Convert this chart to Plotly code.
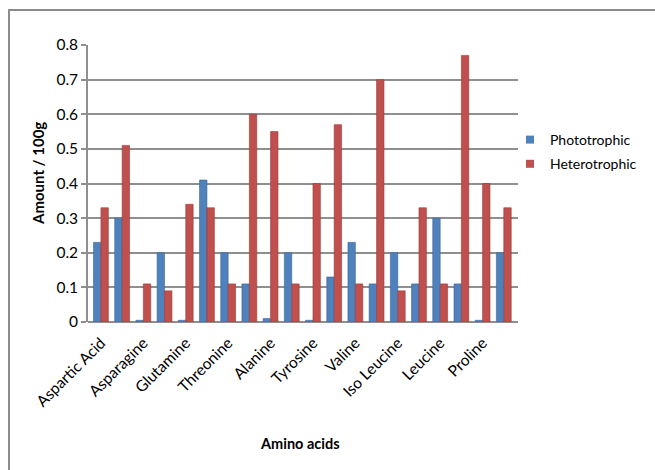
import plotly.graph_objects as go

# Amino acid content (amount per 100 g), 20 residues; every other one is labelled
positions = list(range(20))
phototrophic = [0.23, 0.30, 0.005, 0.20, 0.005, 0.41, 0.20, 0.11, 0.01, 0.20,
                0.005, 0.13, 0.23, 0.11, 0.20, 0.11, 0.30, 0.11, 0.005, 0.20]
heterotrophic = [0.33, 0.51, 0.11, 0.09, 0.34, 0.33, 0.11, 0.60, 0.55, 0.11,
                 0.40, 0.57, 0.11, 0.70, 0.09, 0.33, 0.11, 0.77, 0.40, 0.33]
label_positions = [0, 2, 4, 6, 8, 10, 12, 14, 16, 18]
tick_labels = ["Aspartic Acid", "Asparagine", "Glutamine", "Threonine", "Alanine",
               "Tyrosine", "Valine", "Iso Leucine", "Leucine", "Proline"]
y_ticks = [0, 0.1, 0.2, 0.3, 0.4, 0.5, 0.6, 0.7, 0.8]
y_tick_text = ["0", "0.1", "0.2", "0.3", "0.4", "0.5", "0.6", "0.7", "0.8"]

FONT = "Lato, Open Sans, sans-serif"
GRID = "#8f8f8f"
BLUE, RED = "#4F81BD", "#C0504D"

fig = go.Figure()
fig.add_trace(go.Bar(x=positions, y=phototrophic, name="Phototrophic",
                     marker=dict(color=BLUE, line=dict(color="#3A6796", width=0.6)),
                     showlegend=False))
fig.add_trace(go.Bar(x=positions, y=heterotrophic, name="Heterotrophic",
                     marker=dict(color=RED, line=dict(color="#973C3A", width=0.6)),
                     showlegend=False))
# small square legend keys
for name, color, grp in [("Phototrophic", BLUE, "a"), ("Heterotrophic", RED, "b")]:
    fig.add_trace(go.Scatter(x=[None], y=[None], mode="markers", name=name,
                             marker=dict(symbol="square", size=8, color=color),
                             legendgroup=grp, showlegend=True))

L, R, T, B = 88, 518, 45, 322
W, H = 655, 470
pw, ph = R - L, B - T

def px(x):
    return (x - L) / pw

def py(y):
    return (B - y) / ph

fig.update_layout(
    width=W, height=H,
    margin=dict(l=L, r=W - R, t=T, b=H - B, autoexpand=False),
    paper_bgcolor="white", plot_bgcolor="white",
    barmode="group", bargap=0.3, bargroupgap=0.0,
    font=dict(family=FONT, color="#000000", size=14),
    legend=dict(x=px(510), y=py(124), xanchor="left", yanchor="top",
                font=dict(size=14, family=FONT), tracegroupgap=3,
                itemwidth=30, bgcolor="rgba(0,0,0,0)"),
    xaxis=dict(range=[-0.61, 19.67], tickmode="array", tickvals=label_positions,
               ticktext=tick_labels, tickangle=-45, showgrid=False, zeroline=False,
               showline=False, ticks="", ticklabelstandoff=8,
               tickfont=dict(size=15.5, family=FONT)),
    yaxis=dict(range=[0, 0.8], tickmode="array", tickvals=y_ticks, ticktext=y_tick_text,
               showgrid=True, gridcolor=GRID, gridwidth=1.6, zeroline=True,
               zerolinecolor=GRID, zerolinewidth=1.6, showline=True, linecolor=GRID,
               linewidth=1.6, ticks="outside", ticklen=5, tickcolor=GRID, tickwidth=1.6,
               tickfont=dict(size=15.5, family=FONT)),
    annotations=[
        dict(text="<b>Amount / 100g</b>", x=px(38), y=py(174), xref="paper", yref="paper",
             xanchor="center", yanchor="middle",
             textangle=-90, showarrow=False, font=dict(size=15, family=FONT)),
        dict(text="<b>Amino acids</b>", x=px(300), y=py(443), xref="paper", yref="paper",
             xanchor="center", yanchor="middle",
             showarrow=False, font=dict(size=14.5, family=FONT)),
    ],
    shapes=[
        dict(type="rect", xref="paper", yref="paper",
             x0=px(9), x1=px(700), y0=py(520), y1=py(10),
             line=dict(color="#8c8c8c", width=2), fillcolor="rgba(0,0,0,0)", layer="below"),
    ],
)

fig.write_html("out.html")
